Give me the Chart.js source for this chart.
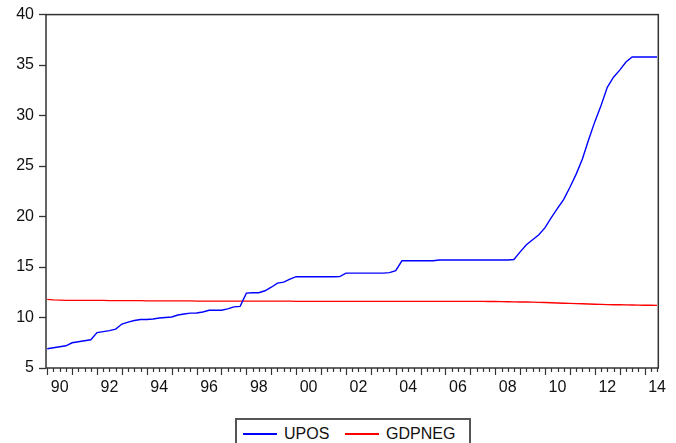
<!DOCTYPE html>
<html>
<head>
<meta charset="utf-8">
<script src="https://cdn.jsdelivr.net/npm/chart.js@4/dist/chart.umd.min.js"></script>
<style>
    body { margin: 0; background: #fff; }
    #wrap { position: relative; width: 676px; height: 443px; overflow: hidden; }
    #legend {
        position: absolute; left: 235px; top: 418px; width: 232px; height: 40px;
        border: 2px solid #555; background: #fff;
        font-family: Arial, "Liberation Sans", sans-serif; font-size: 16px; line-height: 16px;
    }
    #legend .ln { position: absolute; top: 13px; height: 1.5px; width: 34px; }
    #legend .tx { position: absolute; top: 6px; color: #111; }
</style>
</head>
<body>
<div id="wrap">
    <canvas id="chart" width="676" height="443"></canvas>
    <div id="legend">
        <div class="ln" style="left:6px;background:#0000ff"></div><div class="tx" style="left:47px">UPOS</div>
        <div class="ln" style="left:108px;background:#ff0000"></div><div class="tx" style="left:149px">GDPNEG</div>
    </div>
</div>
<script>
// quarterly, 1990Q1 .. 2014Q3
const yearLabels = ['90', '92', '94', '96', '98', '00', '02', '04', '06', '08', '10', '12', '14'];

const upos = [
    6.9, 7.0, 7.1, 7.2, 7.5, 7.6, 7.7, 7.8,
    8.5, 8.6, 8.7, 8.85, 9.35, 9.55, 9.7, 9.8,
    9.8, 9.85, 9.95, 10.0, 10.05, 10.25, 10.35, 10.43,
    10.45, 10.55, 10.72, 10.72, 10.72, 10.85, 11.05, 11.1,
    12.42, 12.45, 12.45, 12.65, 13.0, 13.4, 13.5, 13.8,
    14.04, 14.04, 14.04, 14.04, 14.04, 14.04, 14.04, 14.05,
    14.4, 14.4, 14.4, 14.4, 14.4, 14.4, 14.4, 14.45,
    14.65, 15.62, 15.62, 15.62, 15.62, 15.62, 15.62, 15.7,
    15.7, 15.7, 15.7, 15.7, 15.7, 15.7, 15.7, 15.7,
    15.7, 15.7, 15.7, 15.75, 16.5, 17.2, 17.7, 18.2,
    18.9, 19.9, 20.8, 21.7, 22.9, 24.2, 25.7, 27.6,
    29.4, 31.0, 32.8, 33.8, 34.5, 35.3, 35.8, 35.8,
    35.8, 35.8, 35.8
];

const gdpneg = [
    11.8, 11.75, 11.72, 11.7, 11.7, 11.7, 11.7, 11.7,
    11.7, 11.7, 11.67, 11.67, 11.67, 11.67, 11.67, 11.67,
    11.65, 11.65, 11.65, 11.65, 11.65, 11.65, 11.65, 11.65,
    11.62, 11.62, 11.62, 11.62, 11.62, 11.62, 11.62, 11.62,
    11.62, 11.62, 11.62, 11.62, 11.62, 11.62, 11.62, 11.62,
    11.6, 11.6, 11.6, 11.6, 11.6, 11.6, 11.6, 11.6,
    11.6, 11.6, 11.6, 11.6, 11.6, 11.6, 11.6, 11.6,
    11.6, 11.6, 11.6, 11.6, 11.6, 11.6, 11.6, 11.6,
    11.6, 11.6, 11.6, 11.6, 11.6, 11.6, 11.6, 11.59,
    11.58, 11.57, 11.56, 11.55, 11.54, 11.53, 11.52, 11.5,
    11.48, 11.46, 11.44, 11.42, 11.4, 11.38, 11.36, 11.34,
    11.32, 11.3, 11.28, 11.27, 11.26, 11.25, 11.24, 11.23,
    11.22, 11.21, 11.2
];

const axisColor = '#333';
const font = { family: 'Arial, "Liberation Sans", sans-serif', size: 16 };

// frame round the plot + quarter / year ticks under it
const framePlugin = {
    id: 'frame',
    afterDraw(chart) {
        const { ctx, chartArea: a, scales } = chart;
        ctx.save();
        ctx.strokeStyle = axisColor;
        ctx.lineWidth = 1.5;
        ctx.strokeRect(a.left, a.top, a.right - a.left, a.bottom - a.top);
        ctx.lineWidth = 1.2;
        ctx.beginPath();
        for (let i = 0; i < upos.length; i++) {
            const x = Math.round(scales.x.getPixelForValue(i)) + 0.5;
            ctx.moveTo(x, a.bottom);
            ctx.lineTo(x, a.bottom + (i % 4 === 0 ? 7 : 4));
        }
        ctx.stroke();
        ctx.restore();
    }
};

new Chart(document.getElementById('chart'), {
    type: 'line',
    data: {
        datasets: [
            {
                label: 'UPOS',
                data: upos.map((v, i) => ({ x: i, y: v })),
                borderColor: '#0000ff',
                borderWidth: 1.4,
                pointRadius: 0,
                tension: 0
            },
            {
                label: 'GDPNEG',
                data: gdpneg.map((v, i) => ({ x: i, y: v })),
                borderColor: '#ff0000',
                borderWidth: 1.4,
                pointRadius: 0,
                tension: 0
            }
        ]
    },
    options: {
        responsive: false,
        animation: false,
        layout: { padding: { top: 13, right: 17, bottom: 45, left: 0 } },
        plugins: {
            legend: { display: false },
            tooltip: { enabled: false }
        },
        scales: {
            x: {
                type: 'linear',
                min: -0.2,
                max: 98.2,
                afterBuildTicks: scale => {
                    scale.ticks = yearLabels.map((t, k) => ({ value: 2 + k * 8 }));
                },
                afterFit: scale => { scale.height = 30; },
                ticks: {
                    autoSkip: false,
                    maxRotation: 0,
                    padding: 10,
                    color: '#111',
                    font: font,
                    callback: (v) => yearLabels[(v - 2) / 8]
                },
                grid: { display: true, drawOnChartArea: false, drawTicks: false },
                border: { display: false }
            },
            y: {
                min: 5,
                max: 40,
                afterFit: scale => { scale.width = 46; },
                ticks: {
                    stepSize: 5,
                    padding: 5,
                    color: '#111',
                    font: font
                },
                grid: {
                    drawOnChartArea: false,
                    tickLength: 7,
                    tickColor: axisColor,
                    tickWidth: 1.3
                },
                border: { display: false }
            }
        }
    },
    plugins: [framePlugin]
});
</script>
</body>
</html>
